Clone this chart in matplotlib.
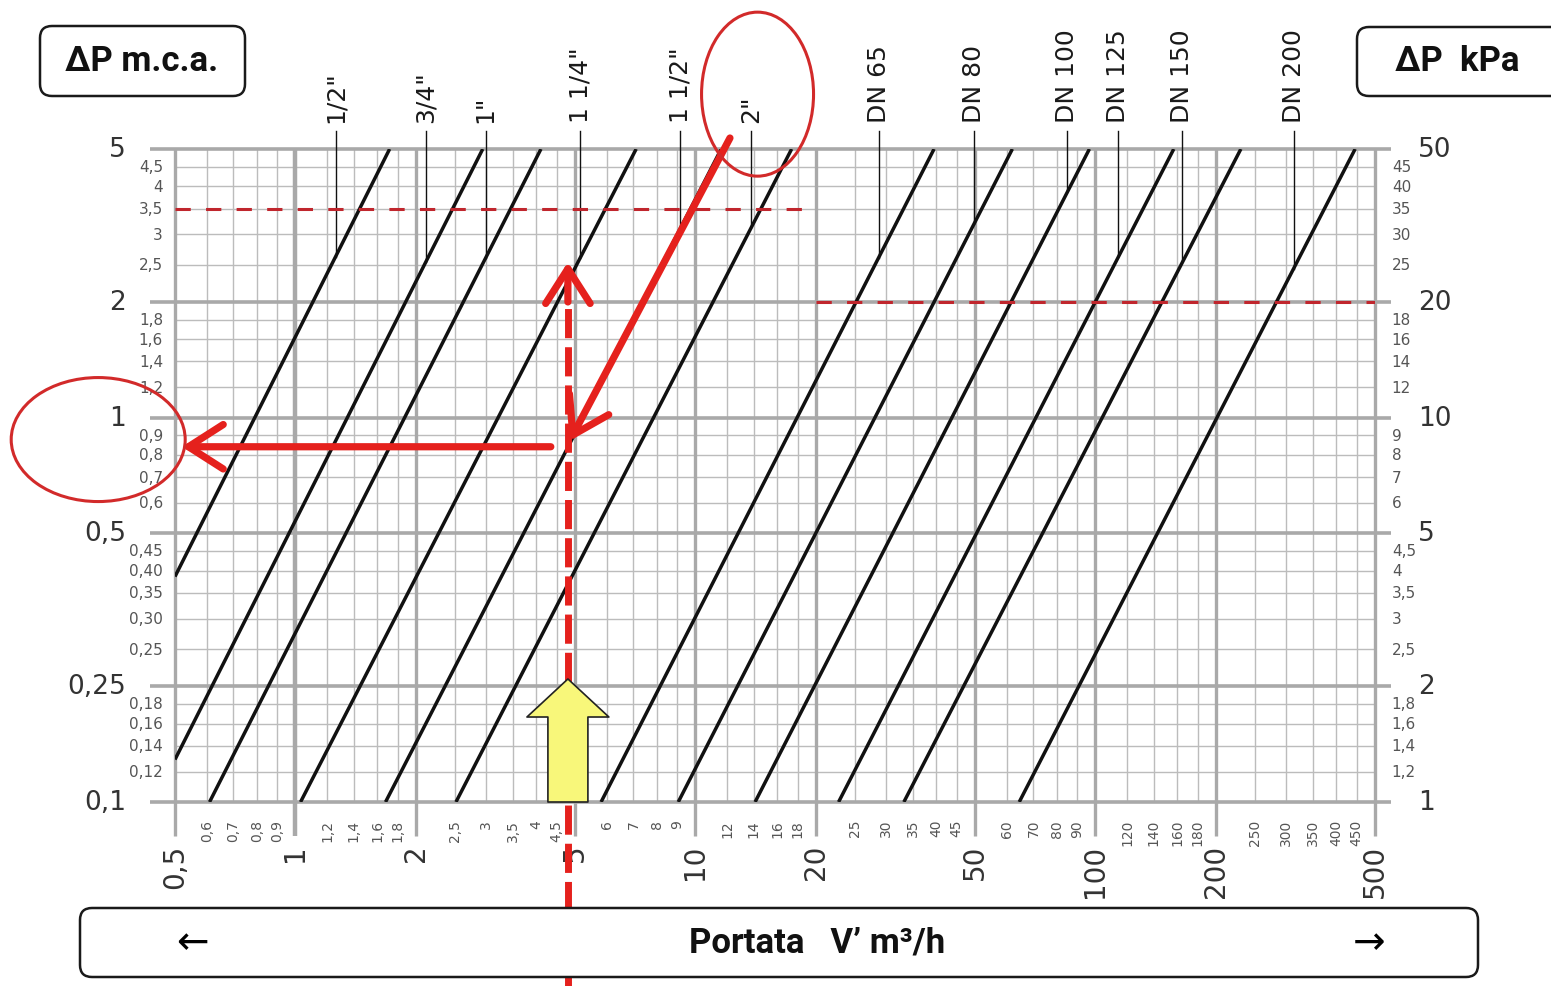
import numpy as np
import matplotlib
matplotlib.use("Agg")
import matplotlib.pyplot as plt
from matplotlib import font_manager, transforms
from matplotlib.patches import Ellipse, FancyBboxPatch

# Flow axis, m3/h
flow_major = [0.5, 1, 2, 5, 10, 20, 50, 100, 200, 500]
flow_major_labels = ["0,5", "1", "2", "5", "10", "20", "50", "100", "200", "500"]
flow_minor = [0.6, 0.7, 0.8, 0.9, 1.2, 1.4, 1.6, 1.8, 2.5, 3, 3.5, 4, 4.5,
              6, 7, 8, 9, 12, 14, 16, 18, 25, 30, 35, 40, 45,
              60, 70, 80, 90, 120, 140, 160, 180, 250, 300, 350, 400, 450]
flow_minor_labels = ["0,6", "0,7", "0,8", "0,9", "1,2", "1,4", "1,6", "1,8",
                     "2,5", "3", "3,5", "4", "4,5", "6", "7", "8", "9",
                     "12", "14", "16", "18", "25", "30", "35", "40", "45",
                     "60", "70", "80", "90", "120", "140", "160", "180",
                     "250", "300", "350", "400", "450"]

# Pressure drop axis, m.c.a. (left) and kPa (right)
dp_major = [0.1, 0.2, 0.5, 1, 2, 5]
dp_major_labels = ["0,1", "0,25", "0,5", "1", "2", "5"]
kpa_major_labels = ["1", "2", "5", "10", "20", "50"]
dp_minor = [0.12, 0.14, 0.16, 0.18, 0.25, 0.30, 0.35, 0.40, 0.45,
            0.6, 0.7, 0.8, 0.9, 1.2, 1.4, 1.6, 1.8, 2.5, 3, 3.5, 4, 4.5]
dp_minor_labels = ["0,12", "0,14", "0,16", "0,18", "0,25", "0,30", "0,35",
                   "0,40", "0,45", "0,6", "0,7", "0,8", "0,9", "1,2", "1,4",
                   "1,6", "1,8", "2,5", "3", "3,5", "4", "4,5"]
kpa_minor_labels = ["1,2", "1,4", "1,6", "1,8", "2,5", "3", "3,5", "4", "4,5",
                    "6", "7", "8", "9", "12", "14", "16", "18", "25", "30",
                    "35", "40", "45"]

# Pipe curves: start and end point (flow m3/h, dp m.c.a.)
pipe_names = ['1/2"', '3/4"', '1"', '1 1/4"', '1 1/2"', '2"',
              "DN 65", "DN 80", "DN 100", "DN 125", "DN 150", "DN 200"]
pipe_q_start = [0.5, 0.5, 0.61, 1.03, 1.68, 2.52, 5.81, 9.06, 14.1, 22.8, 33.2, 64.5]
pipe_dp_start = [0.386, 0.129, 0.1, 0.1, 0.1, 0.1, 0.1, 0.1, 0.1, 0.1, 0.1, 0.1]
pipe_q_end = [1.72, 2.94, 4.11, 7.11, 11.6, 17.4, 39.5, 62.0, 96.6, 157, 231, 446]
pipe_dp_end = [5, 5, 5, 5, 5, 5, 5, 5, 5, 5, 5, 5]
# flow where each name's leader line drops onto its curve
pipe_label_q = [1.26, 2.12, 2.99, 5.15, 9.17, 13.8, 28.7, 49.7, 85.1, 114, 165, 313]

# Worked example
q_example = 4.8
dp_limit_low = 3.5       # m.c.a., small pipes
dp_limit_high = 2.0      # m.c.a. (20 kPa), DN pipes
flow_split = 20
dp_read = 0.84
diag_start = (12.2, 5.34)
diag_end = (4.85, 0.87)
horiz_start = 4.35
horiz_end = 0.52
vert_solid_from = 2.0
vert_tip = 2.54
yellow_tip = 0.209

XLIM = (0.5, 500)
YLIM = (0.1, 5)

installed = {f.name for f in font_manager.fontManager.ttflist}
if "Liberation Sans Narrow" in installed:
    NARROW, NARROW_SIZE = "Liberation Sans Narrow", 24
else:
    NARROW, NARROW_SIZE = "DejaVu Sans", 18

GRID_MINOR = "#bcbcbc"
GRID_MAJOR = "#a9a9a9"
RED = "#e5211d"
DARK_RED = "#c0262d"


def yfrac(dp):
    lo, hi = np.log10(YLIM)
    return (np.log10(dp) - lo) / (hi - lo)


def on_curve(i, q):
    lq0, lq1 = np.log10(pipe_q_start[i]), np.log10(pipe_q_end[i])
    ld0, ld1 = np.log10(pipe_dp_start[i]), np.log10(pipe_dp_end[i])
    t = (np.log10(q) - lq0) / (lq1 - lq0)
    return 10 ** (ld0 + t * (ld1 - ld0))


fig = plt.figure(figsize=(15.51, 9.87), dpi=100)
ax = fig.add_axes([175 / 1551, 1 - 803 / 987, 1200 / 1551, 653 / 987])
ax.set_xscale("log")
ax.set_yscale("log")
ax.set_xlim(*XLIM)
ax.set_ylim(*YLIM)
ax.axis("off")

xt = ax.get_xaxis_transform()
yt = ax.get_yaxis_transform()

# grid
for q in flow_minor:
    ax.axvline(q, color=GRID_MINOR, lw=1.0, zorder=1)
for d in dp_minor:
    ax.axhline(d, color=GRID_MINOR, lw=1.0, zorder=1)
for q in flow_major:
    ax.plot([q, q], [-0.052, 1], transform=xt, color=GRID_MAJOR,
            lw=3.2 if q == 1 else 2.4, clip_on=False, zorder=2,
            solid_capstyle="butt")
for d in dp_major:
    ax.plot([-0.021, 1.013], [d, d], transform=yt, color=GRID_MAJOR,
            lw=2.6, clip_on=False, zorder=2, solid_capstyle="butt")

# left and right scales
for d, lbl in zip(dp_major, dp_major_labels):
    ax.text(-0.041, d, lbl, transform=yt, ha="right", va="center",
            fontsize=19, color="#333333")
for d, lbl in zip(dp_minor, dp_minor_labels):
    ax.text(-0.010, d, lbl, transform=yt, ha="right", va="center",
            fontsize=11, color="#555555")
for d, lbl in zip(dp_major, kpa_major_labels):
    ax.text(1.036, d, lbl, transform=yt, ha="left", va="center",
            fontsize=19, color="#333333")
for d, lbl in zip(dp_minor, kpa_minor_labels):
    ax.text(1.014, d, lbl, transform=yt, ha="left", va="center",
            fontsize=11, color="#555555")

# flow scale
for q, lbl in zip(flow_major, flow_major_labels):
    ax.text(q, -0.064, lbl, transform=xt, ha="center", va="top",
            rotation=90, fontsize=20, color="#333333")
for q, lbl in zip(flow_minor, flow_minor_labels):
    ax.text(q, -0.026, lbl, transform=xt, ha="center", va="top",
            rotation=90, fontsize=10, color="#555555")

# pipe curves with their name leaders
for i, name in enumerate(pipe_names):
    ax.plot([pipe_q_start[i], pipe_q_end[i]], [pipe_dp_start[i], pipe_dp_end[i]],
            color="#111111", lw=2.5, solid_capstyle="butt", zorder=3)
    q = pipe_label_q[i]
    ax.plot([q, q], [yfrac(on_curve(i, q)), 1.028], transform=xt,
            color="#111111", lw=1.0, clip_on=False, zorder=3)
    ax.text(q, 1.041, name, transform=xt, ha="center", va="bottom",
            rotation=90, fontsize=NARROW_SIZE, family=NARROW, color="#1a1a1a")

# pressure drop limits
dash = dict(color=DARK_RED, lw=2.2, dashes=(5, 5), zorder=4)
ax.plot([XLIM[0], flow_split], [dp_limit_low, dp_limit_low], **dash)
ax.plot([flow_split, XLIM[1]], [dp_limit_high, dp_limit_high], **dash)

# worked example: flow up, along the 2" curve, across to the scale
ax.plot([q_example, q_example], [-0.29, yfrac(vert_solid_from)], transform=xt,
        color=RED, lw=5.0, dashes=(4.2, 1.3), clip_on=False, zorder=5)
head = dict(color=RED, lw=5.2, shrinkA=0, shrinkB=0, mutation_scale=20)
style = "->,head_length=1.25,head_width=0.8"
ax.annotate("", xy=(q_example, vert_tip), xytext=(q_example, vert_solid_from),
            arrowprops=dict(arrowstyle=style, **head), zorder=5)
ax.annotate("", xy=diag_end, xytext=diag_start, annotation_clip=False,
            arrowprops=dict(arrowstyle=style, **head), zorder=5)
ax.annotate("", xy=(horiz_end, dp_read), xytext=(horiz_start, dp_read),
            annotation_clip=False,
            arrowprops=dict(arrowstyle=style, **head), zorder=5)
ax.annotate("", xy=(q_example, yellow_tip), xytext=(q_example, YLIM[0]),
            arrowprops=dict(arrowstyle="simple,head_length=1.37,head_width=2.95,tail_width=1.44",
                            fc="#f8f77a", ec="#222222", lw=1.2, shrinkA=0, shrinkB=0,
                            mutation_scale=20),
            zorder=6)

# circles around the chosen pipe and the reading
for cx, cy, w, h, trans in [(14.3, 1.084, 1.12, 1.64, xt),
                            (-0.064, 0.877, 1.74, 1.24, yt)]:
    at = fig.dpi_scale_trans + transforms.ScaledTranslation(cx, cy, trans)
    fig.add_artist(Ellipse((0, 0), w, h, transform=at, fill=False,
                           ec="#d22a2a", lw=2.2, zorder=7))

# header and footer boxes
box = dict(boxstyle="round,pad=0,rounding_size=0.12", fc="white", ec="#1a1a1a",
           lw=1.8, transform=fig.dpi_scale_trans, zorder=8)
fig.add_artist(FancyBboxPatch((0.40, 8.90), 2.05, 0.70, **box))
fig.add_artist(FancyBboxPatch((13.57, 8.90), 2.10, 0.69, **box))
fig.add_artist(FancyBboxPatch((0.80, 0.09), 13.98, 0.69, **box))

title_font = dict(family="Roboto", weight="bold", color="#111111", zorder=9,
                  ha="center", va="center", transform=fig.dpi_scale_trans)
fig.text(1.42, 9.25, "ΔP m.c.a.", fontsize=25, **title_font)
fig.text(14.57, 9.25, "ΔP  kPa", fontsize=25, **title_font)
fig.text(8.17, 0.44, "Portata   V’ m³/h", fontsize=25, **title_font)
fig.text(1.92, 0.44, "←", fontsize=28, ha="center", va="center",
         transform=fig.dpi_scale_trans, zorder=9)
fig.text(13.69, 0.44, "→", fontsize=28, ha="center", va="center",
         transform=fig.dpi_scale_trans, zorder=9)

fig.savefig("out.png", dpi=100, facecolor="white")
